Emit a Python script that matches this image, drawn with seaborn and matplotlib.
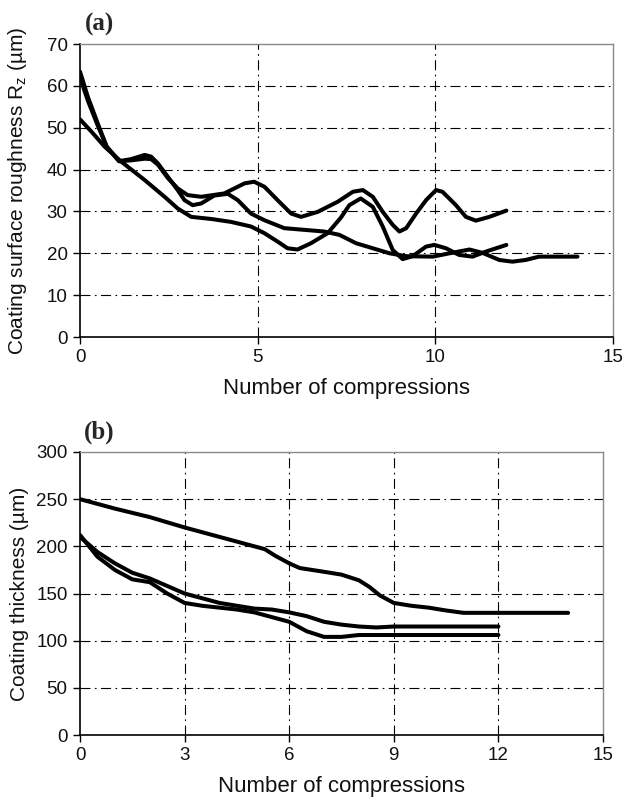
import numpy as np
import pandas as pd
import matplotlib
matplotlib.use("Agg")
import matplotlib.pyplot as plt
import seaborn as sns

# ---- Data: panel (a) roughness Rz (µm) vs number of compressions ----
xa_1 = [0, 0.35, 0.69, 1.16, 1.82, 2.38, 2.75, 3.13, 3.69, 4.25, 4.81, 5.19, 5.56, 5.84, 6.12, 6.5, 6.97,
        7.34, 7.58, 7.9, 8.24, 8.52, 8.8, 9.08, 9.36, 9.74, 9.97, 10.3, 10.67, 11.05, 11.42, 12]
ya_1 = [52, 48.8, 45.5, 41.9, 37.5, 33.5, 30.7, 28.7, 28.2, 27.5, 26.4, 24.8, 22.8, 21.2, 20.9, 22.4, 24.8,
        28.5, 31.5, 33.1, 31.1, 26.4, 20.8, 18.6, 19.3, 21.6, 22, 21.2, 19.6, 19.2, 20.4, 22]
xa_2 = [0, 0.22, 0.5, 0.75, 1.1, 1.44, 1.82, 2.0, 2.19, 2.47, 2.75, 2.94, 3.17, 3.41, 3.78, 4.16, 4.44, 4.81,
        5.19, 5.75, 6.31, 6.87, 7.3, 7.77, 8.24, 8.71, 9.18, 9.93, 10.4, 10.96, 11.33, 11.8, 12.17, 12.54, 12.92, 14]
ya_2 = [63.4, 57.4, 51, 45.5, 42, 42.5, 43.5, 43.1, 41.5, 38.3, 35.1, 32.7, 31.5, 31.9, 33.8, 34.2, 32.7, 29.5,
        27.9, 26, 25.6, 25.2, 24.4, 22.4, 21.2, 20, 19.3, 19.2, 20, 20.9, 20.1, 18.4, 18, 18.4, 19.2, 19.2]
xa_3 = [0, 0.22, 0.5, 0.75, 1.1, 1.44, 1.82, 2.0, 2.19, 2.47, 2.75, 3.03, 3.41, 4.06, 4.63, 4.9, 5.19, 5.56,
        5.94, 6.22, 6.69, 7.25, 7.68, 7.96, 8.24, 8.52, 8.8, 8.99, 9.18, 9.46, 9.74, 10.02, 10.2, 10.58, 10.86,
        11.14, 11.52, 12]
ya_3 = [62, 56.5, 50.5, 45.5, 42, 42.2, 42.6, 42.5, 41.2, 38, 35.5, 33.9, 33.5, 34.3, 36.7, 37.1, 35.9, 32.7,
        29.5, 28.7, 29.9, 32.3, 34.7, 35.1, 33.5, 29.9, 26.8, 25.2, 26, 29.5, 32.7, 35.1, 34.7, 31.5, 28.7,
        27.8, 28.7, 30.2]

# ---- Data: panel (b) coating thickness (µm) ----
xb_1 = [0, 1, 2, 3, 4, 5, 5.3, 5.6, 6, 6.3, 7, 7.5, 8, 8.3, 8.6, 9, 9.5, 10, 10.5, 11, 12, 13, 14]
yb_1 = [250, 240, 231, 220, 210, 200, 197, 190, 182, 177, 173, 170, 164, 157, 148, 140, 137, 135, 132, 129.5, 129.5, 129.5, 129.5]
xb_2 = [0, 0.5, 1, 1.5, 2, 2.5, 3, 3.5, 4, 4.5, 5, 5.5, 6, 6.5, 7, 7.5, 8, 8.5, 9, 10, 11, 12]
yb_2 = [210, 194, 182, 172, 166, 158, 150, 145, 140, 137, 134, 133, 130, 126, 120, 117, 115, 114, 115, 115, 115, 115]
xb_3 = [0, 0.5, 1, 1.5, 2, 2.5, 3, 3.5, 4, 4.5, 5, 5.5, 6, 6.5, 7, 7.5, 8, 9, 10, 11, 12]
yb_3 = [212, 189, 175, 165, 162, 150, 140, 137, 135, 133, 130, 125, 120, 110, 104, 104, 106, 106, 106, 106, 106]

xlabel = "Number of compressions"
ylabel_a = "Coating surface roughness R$_\\mathrm{z}$ (µm)"
ylabel_b = "Coating thickness (µm)"
xticks_a = [0, 5, 10, 15]
yticks_a = [0, 10, 20, 30, 40, 50, 60, 70]
xticks_b = [0, 3, 6, 9, 12, 15]
yticks_b = [0, 50, 100, 150, 200, 250, 300]

sns.set_theme(style="white")
plt.rcParams['font.family'] = ['Liberation Sans', 'DejaVu Sans']
plt.rcParams['mathtext.fontset'] = 'custom'
plt.rcParams['mathtext.rm'] = 'Liberation Sans'
plt.rcParams['mathtext.it'] = 'Liberation Sans:italic'

def long_df(pairs):
    rows = []
    for i, (xs, ys) in enumerate(pairs):
        for x, y in zip(xs, ys):
            rows.append({"x": x, "y": y, "s": f"s{i}"})
    return pd.DataFrame(rows)

df_a = long_df([(xa_1, ya_1), (xa_2, ya_2), (xa_3, ya_3)])
df_b = long_df([(xb_1, yb_1), (xb_2, yb_2), (xb_3, yb_3)])

W, H = 625, 799
fig = plt.figure(figsize=(W/100, H/100), dpi=100)
ax_a = fig.add_axes([80/W, 1-337/H, (613-80)/W, (337-44)/H])
ax_b = fig.add_axes([80/W, 1-735/H, (603-80)/W, (735-452)/H])

grid_ls = (0, (9, 4, 1.5, 4))

def style(ax, xticks, yticks, xmax, ymax, vgrid, ylabel, ax_w_px, ax_h_px):
    ax.set_xlim(0, xmax)
    ax.set_ylim(0, ymax)
    ax.set_xticks(xticks)
    ax.set_yticks(yticks)
    for v in vgrid:
        ax.axvline(v, color='black', lw=0.8, ls=grid_ls, zorder=1)
    for h in yticks[1:-1]:
        ax.axhline(h, color='black', lw=0.8, ls=grid_ls, zorder=1)
    for s in ['left', 'bottom']:
        ax.spines[s].set_color('black')
        ax.spines[s].set_linewidth(1.2)
    for s in ['top', 'right']:
        ax.spines[s].set_color('#8a8a8a')
        ax.spines[s].set_linewidth(1.0)
    ax.tick_params(axis='both', which='major', direction='out', length=5, width=1,
                   color='black', labelsize=13.5, labelcolor='#111111', bottom=True, left=True, pad=4)
    ax.set_xlabel(xlabel, fontsize=16, color='#111111')
    ax.set_ylabel(ylabel, fontsize=15, color='#111111')
    ax.xaxis.set_label_coords(0.5, -41/ax_h_px)
    ax.yaxis.set_label_coords(-51/ax_w_px, 0.5)
    ax.set_facecolor('white')

for df, ax in [(df_a, ax_a), (df_b, ax_b)]:
    sns.lineplot(data=df, x="x", y="y", units="s", estimator=None, color='black',
                 lw=2.9, ax=ax, zorder=3, sort=False,
                 solid_joinstyle='round', solid_capstyle='round')

style(ax_a, xticks_a, yticks_a, 15, 70, [5, 10], ylabel_a, 613-80, 337-44)
style(ax_b, xticks_b, yticks_b, 15, 300, [3, 6, 9, 12], ylabel_b, 603-80, 735-452)

fig.text(99/W, 1-24/H, "(a)", fontsize=18, fontweight='bold', family='Liberation Serif', va='center', ha='center')
fig.text(99/W, 1-432/H, "(b)", fontsize=18, fontweight='bold', family='Liberation Serif', va='center', ha='center')

fig.savefig("out.png", dpi=100, facecolor='white')
